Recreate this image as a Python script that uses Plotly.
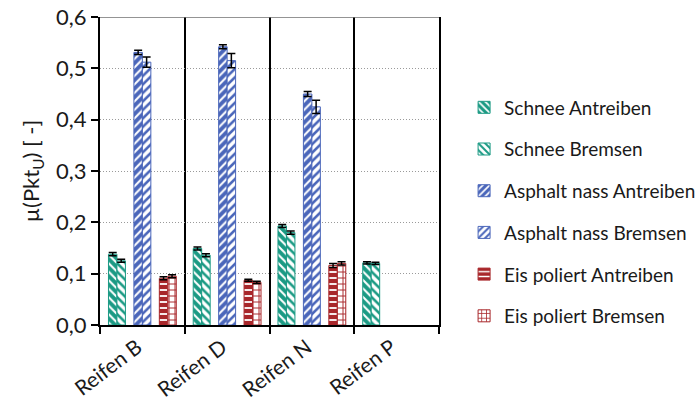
import plotly.graph_objects as go

# Tyres (categories) and measured friction coefficients per condition
reifen = ["Reifen B", "Reifen D", "Reifen N", "Reifen P"]

schnee_antreiben = [0.138, 0.149, 0.193, 0.121]
schnee_antreiben_err = [0.003, 0.003, 0.003, 0.002]
schnee_bremsen = [0.125, 0.136, 0.180, 0.120]
schnee_bremsen_err = [0.003, 0.003, 0.003, 0.002]
asphalt_antreiben = [0.531, 0.542, 0.450, None]
asphalt_antreiben_err = [0.004, 0.004, 0.005, 0]
asphalt_bremsen = [0.512, 0.515, 0.425, None]
asphalt_bremsen_err = [0.010, 0.014, 0.013, 0]
eis_antreiben = [0.091, 0.087, 0.116, None]
eis_antreiben_err = [0.003, 0.002, 0.004, 0]
eis_bremsen = [0.095, 0.083, 0.120, None]
eis_bremsen_err = [0.003, 0.002, 0.003, 0]

y_ticks = [0.0, 0.1, 0.2, 0.3, 0.4, 0.5, 0.6]

TEAL = "#1b9a84"
BLUE = "#4a66ba"
RED = "#a8262a"

FONT = "Lato"
TXT = "#1a1a1a"

series = [
    # name, values, errors, offset, bg, fg, shape, solidity, line colour
    ("Schnee Antreiben", schnee_antreiben, schnee_antreiben_err, -0.4, TEAL, "white", "\\", 0.35, TEAL),
    ("Schnee Bremsen", schnee_bremsen, schnee_bremsen_err, -0.3, "white", TEAL, "\\", 0.42, TEAL),
    ("Asphalt nass Antreiben", asphalt_antreiben, asphalt_antreiben_err, -0.1, BLUE, "white", "/", 0.35, BLUE),
    ("Asphalt nass Bremsen", asphalt_bremsen, asphalt_bremsen_err, 0.0, "white", BLUE, "/", 0.42, BLUE),
    ("Eis poliert Antreiben", eis_antreiben, eis_antreiben_err, 0.2, RED, "white", "-", 0.3, RED),
    ("Eis poliert Bremsen", eis_bremsen, eis_bremsen_err, 0.3, "white", RED, "+", 0.3, RED),
]

fig = go.Figure()
for i, (name, vals, errs, off, bg, fg, shape, sol, lc) in enumerate(series):
    fig.add_trace(go.Bar(
        name=name,
        x=reifen,
        y=vals,
        width=0.1,
        offset=off,
        legendgroup=f"g{i}",
        marker=dict(
            color=bg,
            line=dict(color=lc, width=1),
            pattern=dict(shape=shape, bgcolor=bg, fgcolor=fg,
                         solidity=sol, size=6, fillmode="replace"),
        ),
        error_y=dict(type="data", array=errs, visible=True,
                     color="black", thickness=1.5, width=4),
    ))

fig.update_layout(
    width=699,
    height=417,
    margin=dict(l=100, r=260, t=17, b=92, autoexpand=False),
    paper_bgcolor="white",
    plot_bgcolor="white",
    separators=",.",
    barmode="overlay",
    font=dict(family=FONT, color=TXT),
    showlegend=True,
    legend=dict(
        x=1.074, xanchor="left",
        y=0.367, yanchor="middle",
        traceorder="grouped",
        tracegroupgap=14,
        font=dict(family=FONT, size=19, color=TXT),
        bgcolor="rgba(0,0,0,0)",
    ),
    xaxis=dict(
        type="category",
        automargin=False,
        tickson="boundaries",
        showgrid=True,
        gridcolor="black",
        gridwidth=2,
        showline=True,
        linecolor="black",
        linewidth=2,
        ticks="outside",
        ticklen=7,
        tickwidth=2,
        tickcolor="black",
        tickangle=-37,
        ticklabelshift=-5,
        tickfont=dict(family=FONT, size=21, color=TXT),
        range=[-0.5, 3.5],
    ),
    yaxis=dict(
        automargin=False,
        range=[0, 0.6],
        tickvals=y_ticks,
        tickformat=".1f",
        showgrid=True,
        gridcolor="#9a9a9a",
        gridwidth=1,
        griddash="1px,2px",
        zeroline=False,
        showline=True,
        mirror=True,
        linecolor="black",
        linewidth=2,
        ticks="outside",
        ticklen=7,
        tickwidth=2,
        tickcolor="black",
        tickfont=dict(family=FONT, size=22, color=TXT),
        title=dict(text="µ(Pkt<sub>U</sub>) [ -]",
                   font=dict(family=FONT, size=22, color=TXT),
                   standoff=10),
    ),
)

# thin top frame line of the plot area
fig.add_shape(type="line", xref="paper", yref="y", x0=0, x1=1, y0=0.6, y1=0.6,
              line=dict(color="#707070", width=1.5))

fig.write_html("out.html")
